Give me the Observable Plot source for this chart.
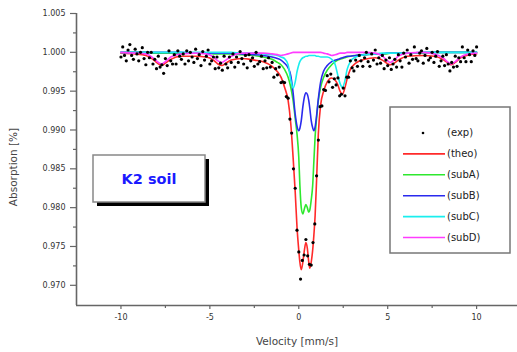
<!DOCTYPE html>
<html><head><meta charset="utf-8">
<script src="https://cdn.jsdelivr.net/npm/d3@7"></script>
<script src="https://cdn.jsdelivr.net/npm/@observablehq/plot@0.6"></script>
<style>
body{margin:0;background:#fff;}
#wrap{position:relative;width:517px;height:352px;}
</style></head><body><div id="wrap"></div>
<script>
// velocities (mm/s) at which the fitted curves are sampled
const fitVelocity = [-10, -9.2, -8.6, -8.2, -7.95, -7.72, -7.5, -7.2, -6.6, -5.8, -5.2, -4.8, -4.55, -4.33, -4.1, -3.8, -3.2, -2.5, -2, -1.5, -1.2, -1, -0.8, -0.6, -0.45, -0.32, -0.2, -0.1, 0, 0.06, 0.14, 0.23, 0.32, 0.4, 0.48, 0.56, 0.62, 0.7, 0.78, 0.85, 0.92, 1.0, 1.1, 1.23, 1.4, 1.6, 1.85, 2.05, 2.2, 2.32, 2.45, 2.58, 2.72, 2.9, 3.2, 3.7, 4.3, 4.7, 4.95, 5.14, 5.35, 5.6, 6.1, 7.0, 7.6, 8.1, 8.35, 8.57, 8.8, 9.1, 9.6, 10];
const theo = [0.9999, 0.9998, 0.9996, 0.9991, 0.9986, 0.9983, 0.9986, 0.9991, 0.9995, 0.9995,
  0.9994, 0.9990, 0.9985, 0.9983, 0.9986, 0.9990, 0.9992, 0.9990, 0.9988, 0.9982,
  0.9975, 0.9968, 0.9955, 0.9938, 0.9908, 0.9865, 0.9820, 0.9775, 0.9745, 0.9730,
  0.9720, 0.9730, 0.9746, 0.9755, 0.9748, 0.9730, 0.9722, 0.9730, 0.9745, 0.9765,
  0.9790, 0.9835, 0.9895, 0.9932, 0.9950, 0.9962, 0.9967, 0.9964, 0.9958, 0.9950,
  0.9946, 0.9953, 0.9966, 0.9978, 0.9986, 0.9991, 0.9993, 0.9990, 0.9986, 0.9984,
  0.9986, 0.9990, 0.9995, 0.9996, 0.9995, 0.9991, 0.9987, 0.9984, 0.9987, 0.9993,
  0.9997, 0.9998];
const subA = [1.0000, 1.0000, 1.0000, 0.9999, 0.9999, 0.9999, 0.9999, 0.9999, 0.9999, 0.9999,
  0.9999, 0.9998, 0.9998, 0.9998, 0.9998, 0.9998, 0.9997, 0.9996, 0.9994, 0.9991,
  0.9987, 0.9984, 0.9978, 0.9968, 0.9955, 0.9938, 0.9915, 0.9895, 0.9865, 0.9830,
  0.9800, 0.9792, 0.9799, 0.9804, 0.9800, 0.9794, 0.9797, 0.9810, 0.9828, 0.9860,
  0.9892, 0.9915, 0.9938, 0.9955, 0.9968, 0.9977, 0.9984, 0.9988, 0.9990, 0.9991,
  0.9992, 0.9993, 0.9994, 0.9995, 0.9996, 0.9997, 0.9998, 0.9998, 0.9998, 0.9999,
  0.9999, 0.9999, 0.9999, 0.9999, 1.0000, 1.0000, 1.0000, 1.0000, 1.0000, 1.0000,
  1.0000, 1.0000];
const subB = [1.0000, 1.0000, 1.0000, 1.0000, 1.0000, 1.0000, 1.0000, 1.0000, 1.0000, 0.9999,
  0.9999, 0.9999, 0.9999, 0.9999, 0.9999, 0.9999, 0.9998, 0.9997, 0.9996, 0.9994,
  0.9992, 0.9990, 0.9986, 0.9980, 0.9970, 0.9948, 0.9920, 0.9905, 0.9899, 0.9902,
  0.9912, 0.9930, 0.9943, 0.9948, 0.9946, 0.9938, 0.9928, 0.9912, 0.9903, 0.9899,
  0.9904, 0.9918, 0.9940, 0.9962, 0.9976, 0.9983, 0.9988, 0.9990, 0.9991, 0.9992,
  0.9993, 0.9994, 0.9995, 0.9995, 0.9996, 0.9997, 0.9998, 0.9998, 0.9999, 0.9999,
  0.9999, 0.9999, 0.9999, 1.0000, 1.0000, 1.0000, 1.0000, 1.0000, 1.0000, 1.0000,
  1.0000, 1.0000];
const subC = [1.0000, 1.0000, 1.0000, 1.0000, 1.0000, 1.0000, 1.0000, 1.0000, 1.0000, 1.0000,
  1.0000, 1.0000, 1.0000, 1.0000, 1.0000, 1.0000, 0.9999, 0.9999, 0.9998, 0.9997,
  0.9996, 0.9994, 0.9992, 0.9984, 0.9964, 0.9954, 0.9962, 0.9975, 0.9984, 0.9988,
  0.9991, 0.9993, 0.9994, 0.9995, 0.9995, 0.9996, 0.9996, 0.9996, 0.9996, 0.9996,
  0.9996, 0.9995, 0.9995, 0.9994, 0.9994, 0.9994, 0.9991, 0.9984, 0.9970, 0.9960,
  0.9955, 0.9962, 0.9978, 0.9988, 0.9994, 0.9997, 0.9998, 0.9999, 0.9999, 0.9999,
  0.9999, 0.9999, 0.9999, 1.0000, 1.0000, 1.0000, 1.0000, 1.0000, 1.0000, 1.0000,
  1.0000, 1.0000];
const subD = [1.0000, 0.9999, 0.9998, 0.9993, 0.9988, 0.9985, 0.9988, 0.9994, 0.9998, 0.9999,
  0.9998, 0.9994, 0.9989, 0.9987, 0.9990, 0.9995, 0.9999, 0.9999, 0.9999, 0.9998,
  0.9997, 0.9996, 0.9997, 0.9998, 0.9999, 1.0000, 1.0000, 1.0000, 1.0000, 1.0000,
  1.0000, 1.0000, 1.0000, 1.0000, 1.0000, 1.0000, 1.0000, 1.0000, 1.0000, 1.0000,
  1.0000, 1.0000, 1.0000, 1.0000, 0.9999, 0.9998, 0.9996, 0.9997, 0.9998, 0.9999,
  0.9999, 0.9999, 1.0000, 1.0000, 1.0000, 1.0000, 0.9999, 0.9995, 0.9990, 0.9987,
  0.9990, 0.9995, 0.9999, 1.0000, 0.9998, 0.9993, 0.9988, 0.9985, 0.9988, 0.9994,
  0.9998, 0.9999];
// experimental channels: velocity from -10 to 10 mm/s in 0.1 mm/s steps
const expStart = -10, expStep = 0.1;
const expValues = [0.9994, 1.0007, 0.9996, 0.9989, 1.0003, 1.0010, 0.9996, 0.9991, 1.0004, 0.9998,
  0.9989, 1.0000, 1.0006, 0.9992, 0.9984, 1.0000, 0.9993, 1.0000, 0.9985, 0.9991,
  0.9979, 0.9995, 0.9981, 0.9984, 0.9973, 0.9992, 0.9983, 1.0002, 0.9989, 0.9985,
  0.9997, 0.9985, 1.0002, 0.9995, 0.9991, 0.9998, 0.9985, 1.0002, 0.9989, 1.0000,
  0.9994, 0.9987, 1.0004, 0.9992, 0.9997, 0.9983, 1.0001, 0.9990, 0.9995, 1.0003,
  0.9985, 0.9989, 0.9994, 0.9979, 0.9994, 0.9980, 0.9986, 0.9977, 0.9995, 0.9985,
  0.9980, 0.9994, 0.9987, 0.9998, 0.9981, 0.9994, 0.9987, 1.0001, 0.9992, 0.9985,
  0.9996, 0.9980, 0.9997, 0.9989, 0.9993, 0.9982, 1.0000, 0.9985, 0.9988, 0.9995,
  0.9979, 0.9989, 0.9980, 0.9993, 0.9981, 0.9987, 0.9968, 0.9979, 0.9971, 0.9981,
  0.9961, 0.9962, 0.9961, 0.9943, 0.9941, 0.9914, 0.9896, 0.9850, 0.9825, 0.9771,
  0.9743, 0.9708, 0.9732, 0.9739, 0.9759, 0.9738, 0.9727, 0.9726, 0.9755, 0.9779,
  0.9841, 0.9887, 0.9930, 0.9931, 0.9952, 0.9951, 0.9970, 0.9962, 0.9972, 0.9955,
  0.9966, 0.9958, 0.9967, 0.9944, 0.9946, 0.9954, 0.9944, 0.9968, 0.9968, 0.9989,
  0.9980, 0.9976, 0.9990, 0.9982, 0.9996, 0.9989, 0.9982, 0.9993, 1.0000, 0.9988,
  0.9982, 0.9998, 0.9990, 1.0003, 0.9985, 0.9993, 0.9986, 0.9996, 0.9979, 0.9990,
  0.9983, 0.9993, 0.9978, 0.9985, 0.9991, 0.9981, 0.9997, 0.9989, 0.9981, 0.9999,
  0.9994, 1.0003, 0.9986, 0.9997, 0.9991, 1.0007, 0.9992, 0.9989, 0.9999, 1.0002,
  0.9986, 0.9996, 1.0005, 0.9990, 0.9993, 1.0000, 0.9987, 0.9995, 1.0001, 0.9982,
  0.9989, 0.9995, 0.9983, 0.9997, 0.9985, 0.9976, 0.9987, 0.9981, 0.9995, 0.9982,
  0.9993, 0.9988, 1.0007, 0.9993, 0.9988, 1.0003, 0.9997, 0.9988, 1.0002, 0.9996,
  1.0007];
const xTicks = [-10, -5, 0, 5, 10];
const xMinorTicks = [-7.5, -2.5, 2.5, 7.5];
const yTicks = [0.970, 0.975, 0.980, 0.985, 0.990, 0.995, 1.000, 1.005];
const yMinorTicks = [0.9725, 0.9775, 0.9825, 0.9875, 0.9925, 0.9975, 1.0025];
const xDomain = [-12.5, 12.3];
const yDomain = [0.9674, 1.005];
const seriesNames = ["(exp)", "(theo)", "(subA)", "(subB)", "(subC)", "(subD)"];
const seriesColors = ["#000000", "#ff2a2a", "#2ee82e", "#2a2aee", "#1aeeee", "#ff3cff"];
const xTitle = "Velocity [mm/s]";
const yTitle = "Absorption [%]";
const sampleLabel = "K2 soil";

const curves = [theo, subA, subB, subC, subD];
const expRows = expValues.map((a, i) => ({v: expStart + i * expStep, a}));
const font = "DejaVu Sans, sans-serif";

const lineMarks = curves.map((vals, k) =>
  Plot.line(vals.map((a, i) => ({v: fitVelocity[i], a})),
    {x: "v", y: "a", stroke: seriesColors[k + 1], strokeWidth: 1.6, curve: "monotone-x"}));

const plot = Plot.plot({
  width: 517, height: 352,
  marginLeft: 76, marginRight: 0, marginTop: 13, marginBottom: 47,
  x: {domain: xDomain},
  y: {domain: yDomain},
  style: {fontFamily: font, fontSize: "8px", background: "white", color: "#333"},
  marks: [
    Plot.axisY(yTicks, {tickSize: 6, tickPadding: 5, tickFormat: d3.format(".3f"), label: null, stroke: "#666", fill: "#333", strokeWidth: 1.2}),
    Plot.axisY(yMinorTicks, {tickSize: 3, tickFormat: () => "", label: null, stroke: "#666", strokeWidth: 1.2}),
    Plot.axisX(xTicks, {tickSize: 4, tickPadding: 5, tickFormat: d => String(d), label: null, stroke: "#666", fill: "#333", strokeWidth: 1.2}),
    Plot.axisX(xMinorTicks, {tickSize: 3, tickFormat: () => "", label: null, stroke: "#666", strokeWidth: 1.2}),
    ...lineMarks,
    Plot.dot(expRows, {x: "v", y: "a", r: 1.6, fill: seriesColors[0], stroke: "none"}),
    Plot.ruleX([xDomain[0]], {stroke: "#666", strokeWidth: 1.6}),
    Plot.ruleY([yDomain[0]], {stroke: "#666", strokeWidth: 1.6})
  ]
});
document.getElementById("wrap").appendChild(plot);

const svg = d3.select(plot);
svg.append("text").attr("transform", "translate(14,167) rotate(-90)")
  .attr("text-anchor", "middle").attr("dominant-baseline", "middle")
  .attr("font-family", font).attr("font-size", 10.5).attr("fill", "#444").text(yTitle);
svg.append("text").attr("x", 297).attr("y", 342)
  .attr("text-anchor", "middle").attr("dominant-baseline", "middle")
  .attr("font-family", font).attr("font-size", 10.5).attr("fill", "#444").text(xTitle);

// sample label box with shadow
const kb = svg.append("g");
kb.append("rect").attr("x", 97).attr("y", 159).attr("width", 112).attr("height", 47).attr("fill", "#000");
kb.append("rect").attr("x", 93).attr("y", 155).attr("width", 112).attr("height", 47)
  .attr("fill", "#fff").attr("stroke", "#888").attr("stroke-width", 1.5);
kb.append("text").attr("x", 149).attr("y", 180).attr("text-anchor", "middle").attr("dominant-baseline", "middle")
  .attr("font-family", font).attr("font-weight", "bold").attr("font-size", 14.5).attr("fill", "#1a1aff").text(sampleLabel);

// legend
const lg = svg.append("g");
lg.append("rect").attr("x", 390).attr("y", 107).attr("width", 120).attr("height", 146)
  .attr("fill", "#fff").attr("stroke", "#777").attr("stroke-width", 1.5);
seriesNames.forEach((name, i) => {
  const y = 133 + i * 20.9;
  if (i === 0) {
    lg.append("circle").attr("cx", 423).attr("cy", y).attr("r", 1.3).attr("fill", seriesColors[0]);
  } else {
    lg.append("line").attr("x1", 403).attr("x2", 445).attr("y1", y).attr("y2", y)
      .attr("stroke", seriesColors[i]).attr("stroke-width", 1.6);
  }
  lg.append("text").attr("x", 447).attr("y", y).attr("text-anchor", "start").attr("dominant-baseline", "middle")
    .attr("font-family", font).attr("font-size", 10).attr("fill", "#222").text(name);
});
</script>
</body></html>
